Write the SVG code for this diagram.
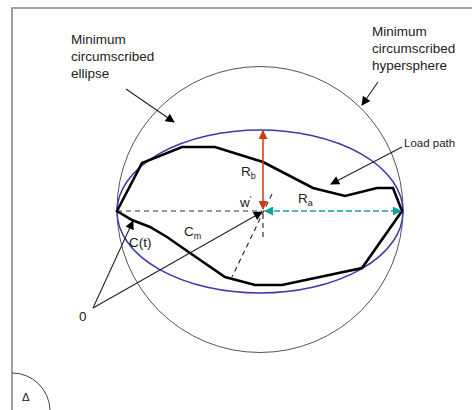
<svg xmlns="http://www.w3.org/2000/svg" width="472" height="410" viewBox="0 0 472 410">
<style>
text{font-family:"Liberation Sans",Arial,sans-serif;fill:#222}
.lbl{font-size:13.5px}
.sm{font-size:11.5px}
.thin{stroke:#222;stroke-width:1.1;fill:none}
.dash{stroke:#333;stroke-width:1.2;stroke-dasharray:5,4;fill:none}
</style>
<defs>
<marker id="ah" viewBox="0 0 10 10" refX="9" refY="5" markerWidth="10" markerHeight="9" markerUnits="userSpaceOnUse" orient="auto-start-reverse"><path d="M0,0 L10,5 L0,10 z" fill="#000"/></marker>
<marker id="ar" viewBox="0 0 10 10" refX="9" refY="5" markerWidth="10" markerHeight="9" markerUnits="userSpaceOnUse" orient="auto-start-reverse"><path d="M0,0 L10,5 L0,10 z" fill="#d03a10"/></marker>
<marker id="at" viewBox="0 0 10 10" refX="9" refY="5" markerWidth="10" markerHeight="9" markerUnits="userSpaceOnUse" orient="auto-start-reverse"><path d="M0,0 L10,5 L0,10 z" fill="#10a0a0"/></marker>
</defs>
<rect width="472" height="410" fill="#fff"/>
<g id="frame">
<path d="M12,410 L12,8 L472,8" fill="none" stroke="#888" stroke-width="1.6"/>
<path d="M12,373 A38,38 0 0 1 50,410" fill="none" stroke="#444" stroke-width="1"/>
<text x="22" y="401" class="sm">Δ</text>
</g>
<g id="hypersphere">
<circle cx="260" cy="209.5" r="143" fill="none" stroke="#555" stroke-width="1"/>
</g>
<g id="ellipse">
<ellipse cx="260" cy="211.5" rx="143" ry="81.5" fill="none" stroke="#3b3ba8" stroke-width="1.5"/>
</g>
<g id="load-path">
<polygon points="117,211 142,163 182,147 215,147 263,162 313,188 345,196 377,188 393,188 402,211 362,268 282,285 255,285 225,277 190,253 167,237 150,227 132,220" fill="none" stroke="#000" stroke-width="2.6" stroke-linejoin="miter"/>
</g>
<g id="connectors">
<line x1="117" y1="211" x2="262" y2="211" class="dash"/>
<line x1="272" y1="194" x2="232" y2="277" class="dash"/>
<line x1="263" y1="214" x2="263" y2="238" class="dash"/>
<line x1="265" y1="211" x2="401" y2="211" stroke="#10a0a0" stroke-width="1.5" stroke-dasharray="6,3" marker-start="url(#at)" marker-end="url(#at)"/>
<line x1="263" y1="131" x2="263" y2="209" stroke="#d03a10" stroke-width="1.5" marker-start="url(#ar)" marker-end="url(#ar)"/>
<line x1="93" y1="308" x2="262" y2="212" class="thin" marker-end="url(#ah)"/>
<line x1="93" y1="308" x2="133" y2="221" class="thin" marker-end="url(#ah)"/>
<line x1="126" y1="89" x2="174" y2="122" class="thin" marker-end="url(#ah)"/>
<line x1="378" y1="82" x2="362" y2="105" class="thin" marker-end="url(#ah)"/>
<line x1="402" y1="147" x2="331" y2="184" class="thin" marker-end="url(#ah)"/>
</g>
<g id="labels">
<text class="lbl" x="71" y="44">Minimum</text>
<text class="lbl" x="71" y="61">circumscribed</text>
<text class="lbl" x="71" y="78">ellipse</text>
<text class="lbl" x="372" y="36">Minimum</text>
<text class="lbl" x="372" y="53">circumscribed</text>
<text class="lbl" x="372" y="70">hypersphere</text>
<text class="sm" x="404" y="147">Load path</text>
<text class="lbl" x="241" y="176">R<tspan font-size="9" dy="3">b</tspan></text>
<text class="lbl" x="298" y="203">R<tspan font-size="9" dy="3">a</tspan></text>
<text class="lbl" x="240" y="207">w<tspan font-size="9" dy="-5">'</tspan></text>
<text class="lbl" x="184" y="236">C<tspan font-size="9" dy="3">m</tspan></text>
<text class="lbl" x="129" y="247">C(t)</text>
<text class="lbl" x="79" y="321">0</text>
</g>
</svg>
